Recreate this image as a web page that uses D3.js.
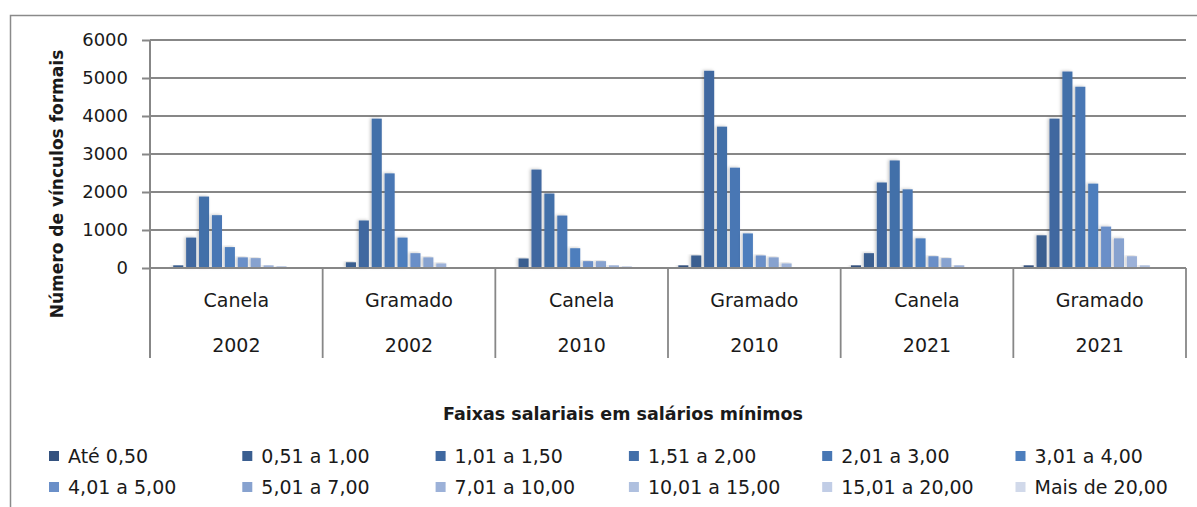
<!DOCTYPE html>
<html lang="pt-BR">
<head>
<meta charset="utf-8">
<title>Vínculos formais por faixa salarial — Canela e Gramado</title>
<script src="https://cdn.jsdelivr.net/npm/d3@7/dist/d3.min.js"></script>
<style>
  html, body { margin: 0; padding: 0; background: #fff; }
  svg { display: block; font-family: "DejaVu Sans", sans-serif; }
</style>
</head>
<body>
<svg id="chart" width="1197" height="507"></svg>
<script>
// Categorias (município / ano)
const cidades = ["Canela", "Gramado", "Canela", "Gramado", "Canela", "Gramado"];
const anos = ["2002", "2002", "2010", "2010", "2021", "2021"];

// Faixas salariais (séries)
const faixas = [
  "Até 0,50", "0,51 a 1,00", "1,01 a 1,50", "1,51 a 2,00", "2,01 a 3,00", "3,01 a 4,00",
  "4,01 a 5,00", "5,01 a 7,00", "7,01 a 10,00", "10,01 a 15,00", "15,01 a 20,00", "Mais de 20,00"
];
const cores = [
  "#34527f", "#3a5e90", "#3f68a0", "#436fa9", "#4877b4", "#4d7ebd",
  "#6a8fc8", "#87a2cf", "#9cb1d8", "#afc0df", "#c1cde6", "#d1d9ea"
];

// Número de vínculos formais por faixa, em cada categoria
const canela2002  = [5, 70, 800, 1880, 1390, 550, 280, 260, 70, 45, 10, 5];
const gramado2002 = [5, 150, 1250, 3930, 2490, 800, 390, 280, 120, 10, 5, 5];
const canela2010  = [5, 250, 2590, 1960, 1380, 520, 180, 180, 70, 40, 10, 5];
const gramado2010 = [70, 330, 5190, 3720, 2640, 910, 330, 280, 120, 15, 5, 5];
const canela2021  = [70, 390, 2250, 2830, 2070, 780, 310, 260, 70, 10, 5, 5];
const gramado2021 = [70, 860, 3930, 5170, 4770, 2220, 1090, 780, 310, 70, 10, 5];
const valores = [canela2002, gramado2002, canela2010, gramado2010, canela2021, gramado2021];

const yTicks = [0, 1000, 2000, 3000, 4000, 5000, 6000];

const svg = d3.select("#chart");
const gridColor = "#878787";

// Sombra suave das colunas
const defs = svg.append("defs");
const f = defs.append("filter").attr("id", "sombra")
  .attr("x", "-50%").attr("y", "-10%").attr("width", "200%").attr("height", "120%");
f.append("feDropShadow").attr("dx", -1.5).attr("dy", -0.5)
  .attr("stdDeviation", 1.4).attr("flood-color", "#000").attr("flood-opacity", 0.22);

// Moldura da área do gráfico
svg.append("path")
  .attr("d", "M10.5,507V15.5H1197")
  .attr("fill", "none").attr("stroke", "#8a8a8a").attr("stroke-width", 1.5);

const plot = { left: 150, right: 1186, top: 40, bottom: 268 };

const y = d3.scaleLinear().domain([0, 6000]).range([plot.bottom, plot.top]);
const x0 = d3.scaleBand().domain(d3.range(cidades.length)).range([plot.left, plot.right]).padding(0);
const x1 = d3.scaleBand().domain(d3.range(faixas.length)).range([0, x0.bandwidth()])
  .paddingInner(0.22).paddingOuter(0.8);

// Linhas de grade
svg.append("g")
  .selectAll("line").data(yTicks).join("line")
  .attr("x1", plot.left).attr("x2", plot.right)
  .attr("y1", d => y(d)).attr("y2", d => y(d))
  .attr("stroke", gridColor).attr("stroke-width", 2);

// Eixo vertical
const yAxis = svg.append("g")
  .attr("transform", `translate(${plot.left},0)`)
  .call(d3.axisLeft(y).tickValues(yTicks).tickFormat(d3.format("d")).tickSize(8).tickPadding(14));
yAxis.select(".domain").remove();
yAxis.selectAll(".tick line").attr("stroke", gridColor).attr("stroke-width", 2);
yAxis.selectAll(".tick text").attr("font-size", 18).attr("fill", "#1a1a1a")
  .attr("font-family", "DejaVu Sans, sans-serif");

// Colunas
const grupos = svg.append("g").selectAll("g").data(valores).join("g")
  .attr("transform", (d, i) => `translate(${x0(i)},0)`);
grupos.selectAll("rect").data(d => d).join("rect")
  .attr("x", (d, j) => x1(j))
  .attr("width", x1.bandwidth())
  .attr("y", d => y(d))
  .attr("height", d => plot.bottom - y(d))
  .attr("fill", (d, j) => cores[j])
  .attr("filter", "url(#sombra)");

// Linha de base por cima das colunas
svg.append("line")
  .attr("x1", plot.left).attr("x2", plot.right)
  .attr("y1", y(0)).attr("y2", y(0))
  .attr("stroke", gridColor).attr("stroke-width", 2);

// Eixo de categorias com dois níveis
const catBottom = 358;
svg.append("line")
  .attr("x1", plot.left).attr("x2", plot.left)
  .attr("y1", plot.top).attr("y2", catBottom)
  .attr("stroke", gridColor).attr("stroke-width", 2);
svg.append("g").selectAll("line").data(d3.range(1, cidades.length + 1)).join("line")
  .attr("x1", i => x0(i - 1) + x0.bandwidth()).attr("x2", i => x0(i - 1) + x0.bandwidth())
  .attr("y1", y(0)).attr("y2", catBottom)
  .attr("stroke", gridColor).attr("stroke-width", 1.8);

const cat = svg.append("g").attr("font-size", 19).attr("fill", "#1a1a1a").attr("text-anchor", "middle");
cat.selectAll("text.cidade").data(cidades).join("text").attr("class", "cidade")
  .attr("x", (d, i) => x0(i) + x0.bandwidth() / 2).attr("y", 307)
  .text(d => d);
cat.selectAll("text.ano").data(anos).join("text").attr("class", "ano")
  .attr("x", (d, i) => x0(i) + x0.bandwidth() / 2).attr("y", 352)
  .text(d => d);

// Título do eixo vertical
svg.append("text")
  .attr("transform", "translate(63,184) rotate(-90)")
  .attr("text-anchor", "middle")
  .attr("font-size", 17).attr("font-weight", "bold").attr("fill", "#1a1a1a")
  .text("Número de vínculos formais");

// Título da legenda
svg.append("text")
  .attr("x", 623).attr("y", 420)
  .attr("text-anchor", "middle")
  .attr("font-size", 17.5).attr("font-weight", "bold").attr("fill", "#1a1a1a")
  .text("Faixas salariais em salários mínimos");

// Legenda
const colW = 193.3, rowY = [456, 487];
const leg = svg.append("g").selectAll("g").data(faixas).join("g")
  .attr("transform", (d, i) => `translate(${49 + (i % 6) * colW},${rowY[Math.floor(i / 6)]})`);
leg.append("rect").attr("x", 0).attr("y", -5).attr("width", 10).attr("height", 10)
  .attr("fill", (d, i) => cores[i]);
leg.append("text").attr("x", 19).attr("y", 0).attr("dy", "0.36em")
  .attr("font-size", 19).attr("fill", "#1a1a1a")
  .text(d => d);
</script>
</body>
</html>
